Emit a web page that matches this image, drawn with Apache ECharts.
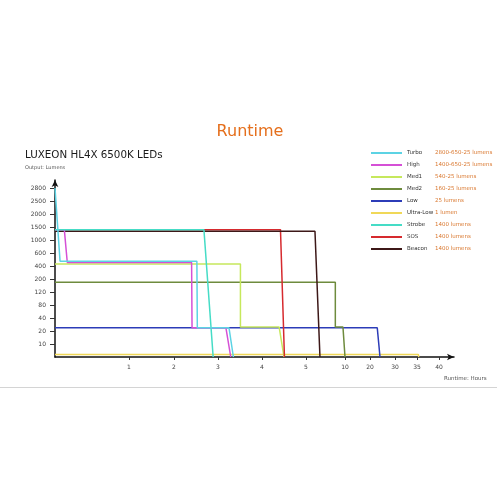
<!DOCTYPE html>
<html><head><meta charset="utf-8">
<script src="https://cdn.jsdelivr.net/npm/echarts@6/dist/echarts.min.js"></script>
<style>html,body{margin:0;padding:0;background:#fff}#c{width:500px;height:500px}</style>
</head><body><div id="c"></div>
<script>
// ---- data ----
const seriesNames = ['Turbo','High','Med1','Med2','Low','Ultra-Low','Strobe','SOS','Beacon'];
const seriesDescriptions = ['2800-650-25 lumens','1400-650-25 lumens','540-25 lumens','160-25 lumens','25 lumens','1 lumen','1400 lumens','1400 lumens','1400 lumens'];
const seriesColors = ['#5cd3e4','#d550d6','#c6e85c','#6e8b3d','#2c3cb8','#f0d858','#45dcc6','#d62a2e','#3d1818'];

const turboHours  = [0, 0.023, 0.068, 2.52, 2.53, 3.25, 3.35];
const turboLumens = [2800, 2800, 475, 475, 25, 25, 0];
const highHours   = [0, 0.126, 0.166, 2.40, 2.41, 3.18, 3.29];
const highLumens  = [1400, 1400, 455, 455, 25, 25, 0];
const med1Hours   = [0, 3.51, 3.51, 4.39, 4.50];
const med1Lumens  = [430, 430, 26, 26, 0];
const med2Hours   = [0, 8.76, 8.76, 9.74, 10.0];
const med2Lumens  = [180, 180, 26, 26, 0];
const lowHours    = [0, 22.9, 24.0];
const lowLumens   = [25, 25, 0];
const ultraLowHours  = [0, 35.3, 35.4];
const ultraLowLumens = [2, 2, 0];
const strobeHours  = [0, 2.68, 2.89];
const strobeLumens = [1400, 1400, 0];
const sosHours     = [0, 4.42, 4.51];
const sosLumens    = [1400, 1400, 0];
const beaconHours  = [0, 6.15, 6.79];
const beaconLumens = [1340, 1340, 0];

// axis tick definitions (non-uniform scales of the original chart)
const yTickLumens = [0, 10, 20, 40, 80, 120, 200, 400, 600, 1000, 1500, 2000, 2500, 2800];
const xTickHours  = [0, 1, 2, 3, 4, 5, 10, 20, 30, 35, 40];
const xTickPos    = [0, 74, 119, 163, 207, 251, 290, 315, 340, 362, 384];

// ---- piecewise scales ----
function interp(v, from, to) {
  for (let i = 0; i < from.length - 1; i++) {
    if (v <= from[i + 1]) {
      const t = (v - from[i]) / (from[i + 1] - from[i]);
      return to[i] + t * (to[i + 1] - to[i]);
    }
  }
  return to[to.length - 1];
}
const yIdx = yTickLumens.map((_, i) => i);
const xScale = h => interp(h, xTickHours, xTickPos);
const yScale = l => interp(l, yTickLumens, yIdx);

const hoursList = [turboHours, highHours, med1Hours, med2Hours, lowHours, ultraLowHours, strobeHours, sosHours, beaconHours];
const lumensList = [turboLumens, highLumens, med1Lumens, med2Lumens, lowLumens, ultraLowLumens, strobeLumens, sosLumens, beaconLumens];
const drawOrder = [5, 4, 3, 2, 7, 8, 1, 6, 0];

const series = drawOrder.map(i => ({
  name: seriesNames[i],
  type: 'line',
  showSymbol: false,
  symbol: 'none',
  color: seriesColors[i],
  lineStyle: { width: 1.5, color: seriesColors[i] },
  data: hoursList[i].map((h, k) => [xScale(h), yScale(lumensList[i][k])]),
  z: 2
}));

const FONT = 'DejaVu Sans';
const chart = echarts.init(document.getElementById('c'), null, { renderer: 'canvas' });
chart.setOption({
  animation: false,
  backgroundColor: '#ffffff',
  grid: { left: 55, top: 180, width: 399, height: 177, containLabel: false },
  xAxis: {
    type: 'value', min: 0, max: 399,
    splitLine: { show: false },
    axisLine: { lineStyle: { color: '#111', width: 1.5 }, symbol: ['none', 'arrow'], symbolSize: [5, 7] },
    axisTick: { show: true, length: 3, lineStyle: { color: '#333' }, customValues: xTickPos.slice(1) },
    axisLabel: {
      customValues: xTickPos.slice(1), margin: 7, fontSize: 6, color: '#444', fontFamily: FONT,
      formatter: v => { const k = xTickPos.indexOf(v); return k >= 0 ? String(xTickHours[k]) : ''; }
    }
  },
  yAxis: {
    type: 'value', min: 0, max: 13.62,
    splitLine: { show: false },
    axisLine: { lineStyle: { color: '#111', width: 1.5 }, symbol: ['none', 'arrow'], symbolSize: [5, 7] },
    axisTick: { show: true, length: 5, lineStyle: { color: '#333' }, customValues: yIdx.slice(1) },
    axisLabel: {
      customValues: yIdx.slice(1), margin: 9, fontSize: 6, color: '#444', fontFamily: FONT,
      formatter: v => String(yTickLumens[Math.round(v)])
    }
  },
  legend: {
    orient: 'vertical', left: 371, top: 149, padding: 0,
    icon: 'rect', itemWidth: 31, itemHeight: 2, itemGap: 4,
    data: seriesNames,
    formatter: name => {
      const k = seriesNames.indexOf(name);
      if (name === 'Ultra-Low') return '{u|' + name + '} {d|' + seriesDescriptions[k] + '}';
      return '{n|' + name + '}{d|' + seriesDescriptions[k] + '}';
    },
    textStyle: {
      fontFamily: FONT, fontSize: 5.5, lineHeight: 8,
      rich: {
        n: { width: 28, fontSize: 5.5, color: '#333', fontFamily: FONT, lineHeight: 8 },
        u: { fontSize: 5.5, color: '#333', fontFamily: FONT, lineHeight: 8 },
        d: { fontSize: 5.5, color: '#d9772e', fontFamily: FONT, lineHeight: 8 }
      }
    }
  },
  graphic: [
    { type: 'text', style: { text: 'Runtime', x: 250, y: 132, fill: '#e56f1c', font: '16px "DejaVu Sans"', textAlign: 'center', textVerticalAlign: 'middle' } },
    { type: 'text', style: { text: 'LUXEON HL4X 6500K LEDs', x: 25, y: 155, fill: '#1a1a1a', font: '10.3px "DejaVu Sans"', textAlign: 'left', textVerticalAlign: 'middle' } },
    { type: 'text', style: { text: 'Output: Lumens', x: 25, y: 167.5, fill: '#555', font: '5px "DejaVu Sans"', textAlign: 'left', textVerticalAlign: 'middle' } },
    { type: 'text', style: { text: 'Runtime: Hours', x: 444, y: 378.5, fill: '#555', font: '5.5px "DejaVu Sans"', textAlign: 'left', textVerticalAlign: 'middle' } },
    { type: 'line', shape: { x1: 0, y1: 387.5, x2: 497, y2: 387.5 }, style: { stroke: '#d4d4d4', lineWidth: 1 } }
  ],
  series: series
});
</script>
</body></html>
